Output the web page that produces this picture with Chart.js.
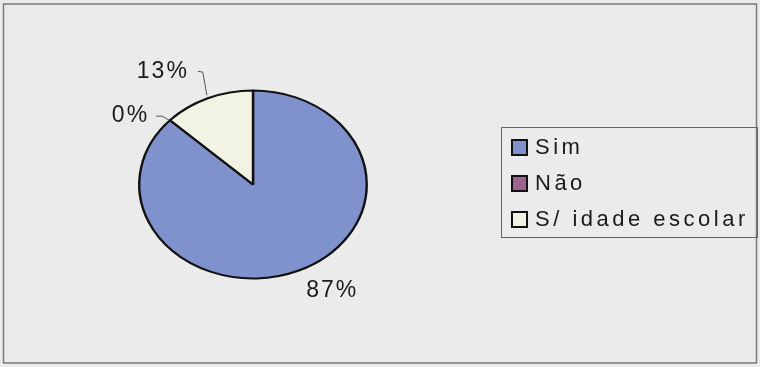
<!DOCTYPE html>
<html>
<head>
<meta charset="utf-8">
<script src="https://cdn.jsdelivr.net/npm/chart.js@4.4.1/dist/chart.umd.min.js"></script>
<style>
  html, body { margin: 0; padding: 0; background: #ebebeb; }
  #wrap { position: relative; width: 760px; height: 367px; }
</style>
</head>
<body>
<div id="wrap"><canvas id="pieEscola" width="760" height="367"></canvas></div>
<script>
const categorias = ['Sim', 'Não', 'S/ idade escolar'];
const percentuais = [87, 0, 13];
const cores = ['#8092cd', '#a0628c', '#f3f3e4'];

// the pie is drawn as a circle and stretched sideways into an ellipse
const STRETCH = 1.21;

const ellipsePie = {
    id: 'ellipsePie',
    beforeDraw(chart) {
        const ctx = chart.ctx;
        ctx.save();
        ctx.fillStyle = '#ebebeb';
        ctx.fillRect(0, 0, chart.width, chart.height);
        // outer frame
        ctx.strokeStyle = '#7a7a7a';
        ctx.lineWidth = 1.5;
        ctx.strokeRect(3.5, 4, 753, 359);
        ctx.restore();
    },
    beforeDatasetsDraw(chart) {
        const ctx = chart.ctx;
        const arc = chart.getDatasetMeta(0).data[0];
        ctx.save();
        ctx.translate(arc.x, arc.y);
        ctx.scale(STRETCH, 1);
        ctx.translate(-arc.x, -arc.y);
    },
    afterDatasetsDraw(chart) {
        chart.ctx.restore();
    },
    afterDraw(chart) {
        const ctx = chart.ctx;
        const arcs = chart.getDatasetMeta(0).data;
        ctx.save();
        ctx.font = '23px Arial, "Liberation Sans", sans-serif';
        ctx.letterSpacing = '2px';
        ctx.fillStyle = '#1a1a1a';
        ctx.strokeStyle = '#555';
        ctx.lineWidth = 1;
        ctx.textBaseline = 'middle';

        // edge point of each slice at its middle angle, on the ellipse
        const edge = (a, frac) => {
            const ang = a.startAngle + (a.endAngle - a.startAngle) * frac;
            return {
                x: a.x + Math.cos(ang) * a.outerRadius * STRETCH,
                y: a.y + Math.sin(ang) * a.outerRadius
            };
        };

        arcs.forEach((a, i) => {
            const txt = percentuais[i] + '%';
            const e = edge(a, 0.5);
            if (i === 0) {
                ctx.textAlign = 'left';
                ctx.fillText(txt, e.x + 8, e.y + 20);
            } else if (i === 1) {
                ctx.beginPath();
                ctx.moveTo(e.x - 1, e.y);
                ctx.lineTo(e.x - 8, e.y - 4);
                ctx.lineTo(e.x - 14, e.y - 4);
                ctx.stroke();
                ctx.textAlign = 'right';
                ctx.fillText(txt, e.x - 21, e.y - 4);
            } else {
                ctx.beginPath();
                ctx.moveTo(e.x - 1, e.y - 3);
                ctx.lineTo(e.x - 5, e.y - 26);
                ctx.lineTo(e.x - 10, e.y - 27);
                ctx.stroke();
                ctx.textAlign = 'right';
                ctx.fillText(txt, e.x - 19, e.y - 27);
            }
        });

        // legend box
        ctx.strokeStyle = '#666';
        ctx.lineWidth = 1;
        ctx.strokeRect(501.5, 127.5, 256, 110);
        ctx.textAlign = 'left';
        ctx.font = '22px Arial, "Liberation Sans", sans-serif';
        ctx.letterSpacing = '3.5px';
        categorias.forEach((c, i) => {
            const y = 147 + i * 36;
            ctx.fillStyle = cores[i];
            ctx.fillRect(512, y - 7, 15, 15);
            ctx.strokeStyle = '#111';
            ctx.lineWidth = 2;
            ctx.strokeRect(512, y - 7, 15, 15);
            ctx.fillStyle = '#1a1a1a';
            ctx.fillText(c, 535, y + 1);
        });
        ctx.restore();
    }
};

new Chart(document.getElementById('pieEscola'), {
    type: 'pie',
    data: {
        labels: categorias,
        datasets: [{
            data: percentuais,
            backgroundColor: cores,
            borderColor: '#111',
            borderWidth: 2,
        }],
    },
    options: {
        responsive: false,
        animation: false,
        radius: 94,
        layout: { padding: { left: 159, right: 413, top: 90, bottom: 88 } },
        plugins: {
            legend: { display: false },
            tooltip: { enabled: false },
        },
    },
    plugins: [ellipsePie],
});
</script>
</body>
</html>
